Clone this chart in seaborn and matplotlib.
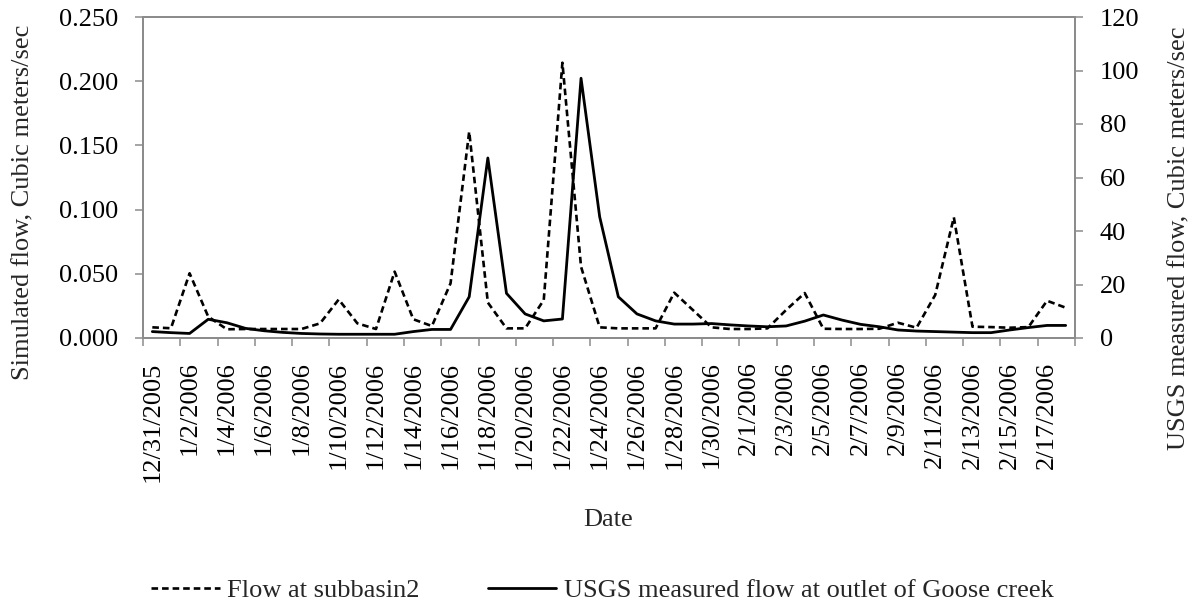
import numpy as np
import pandas as pd
import matplotlib
matplotlib.use("Agg")
import matplotlib.pyplot as plt
import seaborn as sns
from matplotlib.lines import Line2D
from matplotlib.ticker import FixedLocator, FormatStrFormatter, MultipleLocator

# Daily categories, 12/31/2005 through 2/18/2006
dates = pd.date_range("2005-12-31", "2006-02-18", freq="D")
date_labels = [f"{d.month}/{d.day}/{d.year}" for d in dates]

# Simulated flow at subbasin 2 (m^3/s, left axis)
simulated_flow = [
    0.0083, 0.0076, 0.0504, 0.0166, 0.0068, 0.0070, 0.0070, 0.0070, 0.0070, 0.0114,
    0.0300, 0.0114, 0.0070, 0.0517, 0.0146, 0.0093, 0.0426, 0.1607, 0.0276, 0.0075,
    0.0075, 0.0296, 0.2144, 0.0555, 0.0083, 0.0075, 0.0075, 0.0075, 0.0353, 0.0218,
    0.0083, 0.0070, 0.0070, 0.0075, 0.0218, 0.0350, 0.0072, 0.0070, 0.0070, 0.0072,
    0.0119, 0.0080, 0.0335, 0.0940, 0.0088, 0.0085, 0.0080, 0.0085, 0.0290, 0.0236,
]

# USGS measured flow at the Goose creek outlet (m^3/s, right axis)
usgs_flow = [
    2.4, 2.0, 1.7, 7.0, 5.7, 3.6, 2.7, 2.1, 1.7, 1.5,
    1.4, 1.4, 1.4, 1.4, 2.4, 3.2, 3.2, 15.4, 67.3, 16.7,
    9.0, 6.4, 7.1, 97.1, 45.3, 15.4, 9.0, 6.4, 5.2, 5.2,
    5.4, 4.9, 4.5, 4.2, 4.5, 6.3, 8.6, 6.7, 5.1, 4.2,
    3.0, 2.6, 2.4, 2.2, 2.0, 2.0, 3.0, 3.9, 4.7, 4.7,
]

series_names = ["Flow at subbasin2", "USGS measured flow at outlet of Goose creek"]
left_title = "Simulated flow, Cubic meters/sec"
right_title = "USGS measured flow, Cubic meters/sec"
x_title = "Date"

sns.set_theme(style="white")
plt.rcParams["font.family"] = ["Liberation Serif", "DejaVu Serif"]
plt.rcParams["font.size"] = 19

W, H = 1193, 608
fig = plt.figure(figsize=(W / 100, H / 100), dpi=100)
ax = fig.add_axes([143 / W, 1 - 338 / H, (1075 - 143) / W, (338 - 17) / H])
ax2 = ax.twinx()

df = pd.DataFrame({
    "pos": np.arange(len(dates)),
    "sim": simulated_flow,
    "usgs": usgs_flow,
})

sns.lineplot(data=df, x="pos", y="sim", ax=ax, color="black", linewidth=1.9)
sim_line = ax.lines[-1]
sim_line.set_dashes([2.5, 1.5])
sns.lineplot(data=df, x="pos", y="usgs", ax=ax2, color="black", linewidth=2.0)
usgs_line = ax2.lines[-1]

spine_gray = "#8c8c8c"
for a in (ax, ax2):
    a.set_xlabel("")
    a.set_ylabel("")
    for s in a.spines.values():
        s.set_color(spine_gray)
        s.set_linewidth(1.4)

# Category axis: labels at every other day, tick marks on category boundaries
n = len(dates)
ax.set_xlim(-0.5, n - 0.5)
ax.xaxis.set_major_locator(FixedLocator(np.arange(0, n, 2)))
ax.set_xticklabels(date_labels[::2], rotation=90, va="top", ha="center")
ax.xaxis.set_minor_locator(FixedLocator(np.arange(-0.5, n, 2)))
ax.tick_params(axis="x", which="major", length=0, pad=17, labelsize=19, labelcolor="black")
ax.tick_params(axis="x", which="minor", direction="out", length=5.8, width=1.1,
               color=spine_gray, bottom=True)

ax.set_ylim(0, 0.25)
ax.yaxis.set_major_locator(MultipleLocator(0.05))
ax.yaxis.set_major_formatter(FormatStrFormatter("%.3f"))
ax.tick_params(axis="y", direction="out", length=5.8, width=1.1, color=spine_gray,
               pad=12, labelsize=19, labelcolor="black", left=True)

ax2.set_ylim(0, 120)
ax2.yaxis.set_major_locator(MultipleLocator(20))
ax2.tick_params(axis="y", direction="out", length=5.8, width=1.1, color=spine_gray,
                pad=12, labelsize=19, labelcolor="black", right=True)
ax2.set_xlim(-0.5, n - 0.5)

# Axis titles
fig.text(23 / W, 1 - 25 / H, left_title, rotation=90, ha="center", va="top", fontsize=19)
fig.text(1179 / W, 1 - 27 / H, right_title, rotation=90, ha="center", va="top", fontsize=19)
fig.text(608 / W, 1 - 526 / H, x_title, ha="center", va="baseline", fontsize=19)

# Legend along the bottom
handles = [
    Line2D([], [], color="black", linewidth=1.9, dashes=[2.5, 1.5]),
    Line2D([], [], color="black", linewidth=2.0),
]
fig.legend(handles, series_names, loc="center left",
           bbox_to_anchor=(151 / W, 1 - 590 / H), ncol=2, frameon=False,
           borderpad=0, borderaxespad=0, handlelength=2.6, handletextpad=0.27,
           columnspacing=2.6, fontsize=19)

fig.savefig("out.png", dpi=100)
